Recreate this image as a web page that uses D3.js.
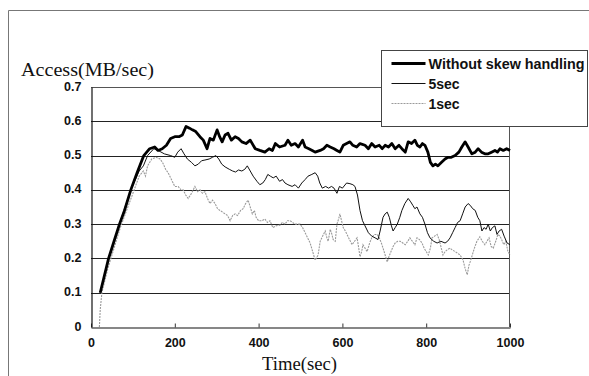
<!DOCTYPE html>
<html>
<head>
<meta charset="utf-8">
<script src="https://cdn.jsdelivr.net/npm/d3@7"></script>
<style>
  body { margin: 0; background: #fff; }
</style>
</head>
<body>
<div id="chart"></div>
<script>
// data: [time (sec), access (MB/sec)]
const withoutSkew = [
    [22, 0.10], [30, 0.14], [42, 0.20], [55, 0.25], [68, 0.30], [80, 0.34], [95, 0.40],
    [110, 0.45], [126, 0.50], [140, 0.52], [152, 0.525], [160, 0.515], [170, 0.52],
    [180, 0.53], [190, 0.55], [200, 0.555], [210, 0.555], [218, 0.56], [227, 0.585],
    [235, 0.58], [242, 0.575], [250, 0.57], [260, 0.555], [268, 0.545], [277, 0.52],
    [284, 0.55], [292, 0.545], [301, 0.575], [307, 0.555], [313, 0.54], [320, 0.56],
    [327, 0.565], [335, 0.545], [344, 0.555], [352, 0.55], [360, 0.54], [370, 0.535],
    [380, 0.545], [392, 0.52], [403, 0.515], [415, 0.51], [425, 0.52], [433, 0.515],
    [440, 0.535], [450, 0.525], [463, 0.53], [470, 0.545], [478, 0.53], [487, 0.535],
    [495, 0.525], [505, 0.545], [511, 0.525], [520, 0.52], [528, 0.515], [535, 0.51],
    [547, 0.515], [555, 0.52], [563, 0.53], [571, 0.525], [580, 0.52], [587, 0.515],
    [594, 0.51], [602, 0.53], [610, 0.535], [618, 0.54], [625, 0.53], [634, 0.525],
    [642, 0.535], [654, 0.53], [662, 0.52], [670, 0.535], [678, 0.525], [688, 0.53],
    [695, 0.52], [702, 0.53], [710, 0.525], [718, 0.535], [726, 0.52], [735, 0.53],
    [742, 0.52], [750, 0.51], [757, 0.54], [765, 0.535], [773, 0.545], [779, 0.53],
    [785, 0.525], [791, 0.535], [797, 0.53], [804, 0.51], [810, 0.48], [816, 0.47],
    [822, 0.475], [828, 0.47], [836, 0.48], [845, 0.49], [852, 0.495], [860, 0.495],
    [869, 0.5], [878, 0.51], [885, 0.525], [893, 0.54], [900, 0.525], [909, 0.505],
    [917, 0.51], [924, 0.52], [932, 0.51], [940, 0.505], [948, 0.505], [956, 0.51],
    [964, 0.515], [970, 0.51], [976, 0.52], [984, 0.515], [992, 0.52], [1000, 0.515]
];

const fiveSec = [
    [22, 0.10], [42, 0.20], [68, 0.30], [95, 0.40], [115, 0.455], [125, 0.47], [135, 0.5],
    [150, 0.52], [160, 0.515], [175, 0.505], [190, 0.50], [200, 0.495], [207, 0.51],
    [215, 0.52], [222, 0.505], [230, 0.49], [240, 0.48], [248, 0.47], [256, 0.475],
    [264, 0.485], [272, 0.487], [282, 0.49], [290, 0.495], [298, 0.5], [305, 0.49],
    [312, 0.475], [320, 0.467], [330, 0.46], [338, 0.455], [345, 0.452], [352, 0.458],
    [360, 0.455], [367, 0.46], [373, 0.47], [380, 0.455], [387, 0.44], [396, 0.425],
    [403, 0.415], [410, 0.42], [416, 0.43], [422, 0.445], [428, 0.44], [435, 0.435],
    [442, 0.44], [450, 0.425], [457, 0.43], [463, 0.42], [470, 0.415], [480, 0.41],
    [487, 0.415], [495, 0.405], [503, 0.42], [511, 0.43], [518, 0.44], [527, 0.445],
    [535, 0.45], [541, 0.44], [546, 0.42], [552, 0.405], [560, 0.41], [567, 0.405],
    [574, 0.41], [580, 0.405], [587, 0.39], [593, 0.41], [600, 0.405], [610, 0.42],
    [618, 0.418], [625, 0.415], [630, 0.41], [636, 0.385], [642, 0.34], [648, 0.31],
    [654, 0.295], [662, 0.275], [670, 0.265], [678, 0.26], [685, 0.255], [690, 0.28],
    [697, 0.32], [702, 0.33], [707, 0.335], [712, 0.32], [717, 0.295], [721, 0.28],
    [726, 0.29], [731, 0.30], [737, 0.32], [742, 0.34], [749, 0.36], [757, 0.375],
    [763, 0.365], [768, 0.355], [773, 0.345], [778, 0.35], [785, 0.33], [791, 0.32],
    [797, 0.30], [803, 0.275], [809, 0.26], [818, 0.25], [826, 0.245], [835, 0.25],
    [845, 0.245], [851, 0.25], [857, 0.26], [863, 0.275], [869, 0.29], [875, 0.305],
    [881, 0.31], [887, 0.33], [893, 0.35], [900, 0.36], [905, 0.355], [911, 0.345],
    [917, 0.34], [923, 0.32], [928, 0.31], [933, 0.28], [938, 0.29], [943, 0.285],
    [948, 0.3], [953, 0.28], [958, 0.29], [964, 0.295], [969, 0.27], [974, 0.28],
    [980, 0.285], [986, 0.265], [993, 0.245], [1000, 0.24]
];

const oneSec = [
    [20, 0.0], [22, 0.05], [26, 0.1], [40, 0.17], [55, 0.23], [70, 0.29], [85, 0.34],
    [100, 0.39], [115, 0.44], [125, 0.455], [130, 0.44], [135, 0.47], [145, 0.49],
    [155, 0.495], [165, 0.49], [172, 0.477], [178, 0.46], [184, 0.45], [192, 0.43],
    [200, 0.41], [208, 0.41], [215, 0.4], [220, 0.40], [226, 0.385], [232, 0.375],
    [240, 0.39], [248, 0.41], [254, 0.395], [260, 0.40], [266, 0.39], [272, 0.395],
    [278, 0.375], [284, 0.36], [290, 0.37], [296, 0.36], [302, 0.345], [308, 0.34],
    [314, 0.335], [320, 0.33], [326, 0.325], [332, 0.31], [338, 0.325], [344, 0.33],
    [350, 0.325], [357, 0.34], [363, 0.345], [369, 0.36], [375, 0.37], [380, 0.35],
    [385, 0.33], [390, 0.34], [394, 0.32], [400, 0.31], [408, 0.31], [415, 0.315],
    [421, 0.305], [427, 0.31], [434, 0.29], [441, 0.295], [451, 0.297], [457, 0.305],
    [463, 0.30], [469, 0.31], [475, 0.31], [481, 0.305], [487, 0.30], [493, 0.30],
    [499, 0.30], [505, 0.29], [511, 0.275], [517, 0.26], [523, 0.245], [529, 0.22],
    [535, 0.195], [542, 0.21], [547, 0.25], [554, 0.268], [559, 0.28], [563, 0.26],
    [566, 0.25], [571, 0.285], [575, 0.27], [578, 0.255], [583, 0.25], [587, 0.30],
    [591, 0.315], [594, 0.33], [598, 0.31], [602, 0.29], [607, 0.28], [611, 0.27],
    [617, 0.255], [623, 0.24], [629, 0.25], [635, 0.26], [639, 0.23], [642, 0.205],
    [646, 0.22], [649, 0.24], [654, 0.23], [659, 0.22], [665, 0.245], [671, 0.263],
    [677, 0.27], [683, 0.27], [688, 0.26], [693, 0.245], [697, 0.23], [702, 0.21],
    [707, 0.19], [711, 0.205], [716, 0.22], [721, 0.235], [726, 0.245], [732, 0.25],
    [738, 0.25], [744, 0.245], [750, 0.24], [756, 0.25], [761, 0.26], [767, 0.25],
    [773, 0.24], [778, 0.26], [784, 0.255], [790, 0.245], [795, 0.23], [800, 0.22],
    [805, 0.21], [810, 0.23], [814, 0.26], [820, 0.265], [826, 0.27], [831, 0.255],
    [835, 0.235], [840, 0.21], [845, 0.22], [850, 0.225], [857, 0.23], [862, 0.225],
    [869, 0.22], [875, 0.215], [881, 0.21], [888, 0.195], [893, 0.17], [898, 0.152],
    [902, 0.18], [905, 0.19], [910, 0.21], [915, 0.23], [921, 0.25], [928, 0.263],
    [934, 0.25], [940, 0.24], [945, 0.25], [950, 0.26], [955, 0.235], [960, 0.23],
    [966, 0.25], [971, 0.27], [976, 0.265], [980, 0.255], [985, 0.24], [990, 0.25],
    [995, 0.22], [1000, 0.21]
];

const xTicks = [0, 200, 400, 600, 800, 1000];
const yTicks = [0, 0.1, 0.2, 0.3, 0.4, 0.5, 0.6, 0.7];
const seriesNames = ['Without skew handling', '5sec', '1sec'];

// dimensions and margins of the graph
const W = 589, H = 376;
const margin = { top: 87, right: 79, bottom: 49, left: 91 };
const width = W - margin.left - margin.right;
const height = H - margin.top - margin.bottom;

const svg = d3.select('#chart')
    .append('svg')
    .attr('width', W)
    .attr('height', H);

// outer frame (only top and left edges visible in the scan)
svg.append('path')
    .attr('d', 'M8.5,' + H + 'V10.5H' + W)
    .attr('fill', 'none')
    .attr('stroke', '#777')
    .attr('stroke-width', 1);

const g = svg.append('g')
    .attr('transform', 'translate(' + margin.left + ',' + margin.top + ')');

const x = d3.scaleLinear().domain([0, 1000]).range([0, width]);
const y = d3.scaleLinear().domain([0, 0.7]).range([height, 0]);

// horizontal gridlines
g.append('g')
    .selectAll('line')
    .data(yTicks.slice(1, -1))
    .enter()
    .append('line')
    .attr('x1', 0)
    .attr('x2', width)
    .attr('y1', d => Math.round(y(d)) + 0.5)
    .attr('y2', d => Math.round(y(d)) + 0.5)
    .attr('stroke', '#222')
    .attr('stroke-width', 1.2);

// plot border (top and right)
g.append('path')
    .attr('d', 'M0,' + (Math.round(y(0.7)) + 0.5) + 'H' + (width - 0.5) + 'V' + height)
    .attr('fill', 'none')
    .attr('stroke', '#555')
    .attr('stroke-width', 1);

// x axis
const xAxis = g.append('g')
    .attr('transform', 'translate(0,' + (Math.round(height) + 0.5) + ')')
    .call(d3.axisBottom(x).tickValues(xTicks).tickFormat(d3.format('d'))
        .tickSizeInner(-4).tickSizeOuter(0).tickPadding(11));
xAxis.select('.domain').attr('stroke', '#111').attr('stroke-width', 1.2);
xAxis.selectAll('line').attr('stroke', '#333');
xAxis.selectAll('text')
    .attr('font-family', 'Liberation Sans, Arial, sans-serif')
    .attr('font-weight', 'bold')
    .attr('font-size', 12.5)
    .attr('fill', '#111');

// y axis
const yAxis = g.append('g')
    .attr('transform', 'translate(0.5,0)')
    .call(d3.axisLeft(y).tickValues(yTicks).tickSize(0).tickPadding(10)
        .tickFormat(d => d === 0 ? '0' : d3.format('.1f')(d)));
yAxis.select('.domain').attr('stroke', '#111').attr('stroke-width', 1.2);
yAxis.selectAll('text')
    .attr('font-family', 'Liberation Sans, Arial, sans-serif')
    .attr('font-weight', 'bold')
    .attr('font-size', 12.5)
    .attr('fill', '#111')
    .attr('dy', '0.25em');

const line = d3.line()
    .x(d => x(d[0]))
    .y(d => y(d[1]));

// Add the lines
g.append('path')
    .datum(oneSec)
    .attr('fill', 'none')
    .attr('stroke', '#9a9a9a')
    .attr('stroke-width', 1.1)
    .attr('stroke-dasharray', '2,1')
    .attr('d', line);

g.append('path')
    .datum(fiveSec)
    .attr('fill', 'none')
    .attr('stroke', '#111')
    .attr('stroke-width', 1)
    .attr('d', line);

g.append('path')
    .datum(withoutSkew)
    .attr('fill', 'none')
    .attr('stroke', '#000')
    .attr('stroke-width', 2.8)
    .attr('stroke-linejoin', 'round')
    .attr('d', line);

// axis titles
svg.append('text')
    .attr('x', 21)
    .attr('y', 76)
    .attr('font-family', 'Liberation Serif, Times New Roman, serif')
    .attr('font-size', 18)
    .attr('textLength', 133)
    .attr('lengthAdjust', 'spacingAndGlyphs')
    .attr('fill', '#111')
    .text('Access(MB/sec)');

svg.append('text')
    .attr('x', 262)
    .attr('y', 370)
    .attr('font-family', 'Liberation Serif, Times New Roman, serif')
    .attr('font-size', 18)
    .attr('textLength', 75)
    .attr('lengthAdjust', 'spacingAndGlyphs')
    .attr('fill', '#111')
    .text('Time(sec)');

// legend
const legend = svg.append('g').attr('transform', 'translate(381.5,50.5)');
legend.append('rect')
    .attr('width', 206)
    .attr('height', 76)
    .attr('fill', '#fff')
    .attr('stroke', '#444')
    .attr('stroke-width', 1);

const legendStyles = [
    { w: 2.8, c: '#000', dash: null },
    { w: 1, c: '#111', dash: null },
    { w: 1.1, c: '#9a9a9a', dash: '2,1' }
];
const rows = legend.selectAll('g.row')
    .data(seriesNames)
    .enter()
    .append('g')
    .attr('class', 'row')
    .attr('transform', (d, i) => 'translate(0,' + (13 + i * 20) + ')');
rows.append('line')
    .attr('x1', 10)
    .attr('x2', 44)
    .attr('stroke', (d, i) => legendStyles[i].c)
    .attr('stroke-width', (d, i) => legendStyles[i].w)
    .attr('stroke-dasharray', (d, i) => legendStyles[i].dash);
rows.append('text')
    .attr('x', 47)
    .attr('y', 5)
    .attr('font-family', 'Liberation Sans, Arial, sans-serif')
    .attr('font-weight', 'bold')
    .attr('font-size', 14)
    .attr('textLength', (d, i) => i === 0 ? 156 : null)
    .attr('lengthAdjust', 'spacingAndGlyphs')
    .attr('fill', '#111')
    .text(d => d);
</script>
</body>
</html>
